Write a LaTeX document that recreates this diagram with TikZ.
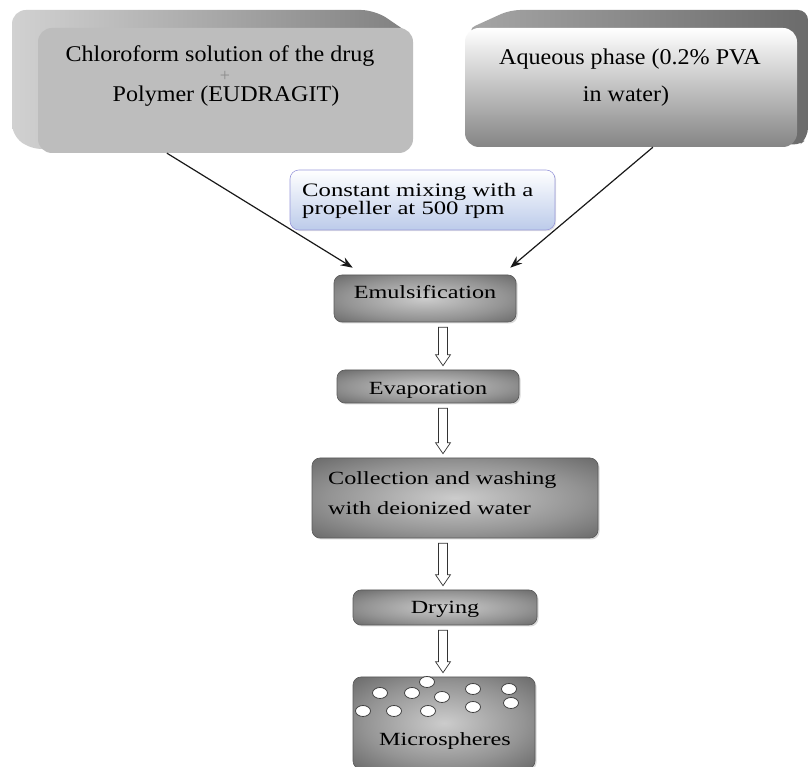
\documentclass[tikz,border=0pt]{standalone}
\usepackage{fontspec}
\setmainfont{Liberation Serif}
\newfontfamily\topf{Liberation Serif}[FakeStretch=1.07]
\newfontfamily\lowf{Liberation Serif}[FakeStretch=1.3]
\usetikzlibrary{shadows,arrows.meta,calc}

\pgfdeclareradialshading{boxglow}{\pgfpoint{0bp}{0bp}}{color(0bp)=(black!20); color(22bp)=(black!42); color(42bp)=(black!66); color(55bp)=(black!76); color(71bp)=(black!84)}

\newcommand\hollowarrow[2]{%
  \draw[hollow] let \p1=($(#1.south -| axis)+(0,-5)$), \p2=($(#2.north -| axis)+(0,4)$) in
    (\x1-4.5pt,\y1) -- (\x1+4.5pt,\y1) -- (\x1+4.5pt,\y2+11pt) -- (\x1+7.5pt,\y2+11pt)
    -- (\x1,\y2) -- (\x1-7.5pt,\y2+11pt) -- (\x1-4.5pt,\y2+11pt) -- cycle;}

\begin{document}
\begin{tikzpicture}[x=1pt,y=1pt,
  procbox/.style={rectangle, rounded corners=8pt, draw=black!65, line width=0.6pt,
    shade, shading=boxglow,
    drop shadow={opacity=0.3, shadow xshift=1.5pt, shadow yshift=-1.5pt}},
  mixbox/.style={rectangle, rounded corners=9pt, draw=black!35!blue!40, line width=0.6pt,
    top color=white, bottom color={rgb,255:red,188;green,203;blue,234},
    drop shadow={opacity=0.2, shadow xshift=1.2pt, shadow yshift=-1.2pt}},
  txt/.style={inner sep=0pt, text=black},
  toptxt/.style={txt, font=\topf\fontsize{22.5}{24}\selectfont},
  lowtxt/.style={txt, font=\lowf\fontsize{18.6}{20}\selectfont},
  conn/.style={draw=black!90, line width=1.2pt, -{Stealth[length=12pt,width=9pt]}},
  hollow/.style={draw=black!80, fill=white, line width=0.7pt, line join=miter},
  sphere/.style={fill=white, draw=black!75, line width=0.8pt}
]
\useasboundingbox (0,0) rectangle (809,767);
\fill[white] (0,0) rectangle (809,767);
\coordinate (axis) at (443,0);

% left 3D box
\shade[left color=black!18, right color=black!50, rounded corners=14pt]
  (40,615) -- (12,629) -- (12,757) -- (375,757) -- (413,731) -- cycle;
\node[rectangle, fill=black!26, rounded corners=14pt, minimum width=375pt, minimum height=125pt] (lbox) at (225.5,676.5) {};
\node[toptxt, anchor=base] (l1) at (220,705) {Chloroform solution of the drug};
\node[txt, anchor=base, text=black!45, font=\fontsize{18}{18}\selectfont] (lplus) at (225,685) {+};
\node[toptxt, anchor=base] (l3) at (226,665) {Polymer (EUDRAGIT)};

% right 3D box
\shade[left color=black!35, right color=black!58, rounded corners=10pt]
  (466,737) -- (510,757) -- (808,757) -- (808,629) -- (797,620) -- cycle;
\node[rectangle, top color=white, bottom color=black!48, rounded corners=14pt, minimum width=332pt, minimum height=119pt] (rbox) at (631,679.5) {};
\node[toptxt, anchor=base] (r1) at (630,702) {Aqueous phase (0.2\% PVA};
\node[toptxt, anchor=base] (r2) at (626,665) {in water)};

% mixing box
\node[mixbox, minimum width=265pt, minimum height=60pt] (mix) at (422.5,567) {};
\node[txt, anchor=base west, font=\lowf\fontsize{19}{20}\selectfont] (m1) at (302,570) {Constant mixing with a};
\node[txt, anchor=base west, font=\lowf\fontsize{19}{20}\selectfont] (m2) at (302,552) {propeller at 500 rpm};

% process boxes
\node[procbox, minimum width=182pt, minimum height=47pt] (emul) at (425,468.5) {};
\node[lowtxt, anchor=base] (emulT) at (425,468) {Emulsification};

\node[procbox, minimum width=182pt, minimum height=33pt] (evap) at (428,380.5) {};
\node[lowtxt, anchor=base] (evapT) at (428,372) {Evaporation};

\node[procbox, minimum width=286pt, minimum height=80pt] (coll) at (455,269) {};
\node[lowtxt, anchor=base west] (coll1) at (328,282) {Collection and washing};
\node[lowtxt, anchor=base west] (coll2) at (328,252) {with deionized water};

\node[procbox, minimum width=184pt, minimum height=35pt] (dry) at (445,159.5) {};
\node[lowtxt, anchor=base] (dryT) at (445,153) {Drying};

\node[procbox, minimum width=182pt, minimum height=92pt] (micro) at (444,44) {};
\foreach \cx/\cy in {380/74, 412/74, 427/85, 442/70, 473/78, 509/78, 363/56, 394/56, 428/56, 473/60, 511/64}
  \draw[sphere] (\cx,\cy) ellipse (7.5 and 5.5);
\node[lowtxt, anchor=base] (microT) at (445,21) {Microspheres};

% connectors
\draw[conn] ($(lbox.south west)!0.344!(lbox.south east)$) -- ($(emul.north west)!0.104!(emul.north east)+(0,7)$);
\draw[conn] ($(rbox.south west)!0.566!(rbox.south east)$) -- ($(emul.north west)!0.967!(emul.north east)+(0,7)$);

\hollowarrow{emul}{evap}
\hollowarrow{evap}{coll}
\hollowarrow{coll}{dry}
\hollowarrow{dry}{micro}
\end{tikzpicture}
\end{document}
